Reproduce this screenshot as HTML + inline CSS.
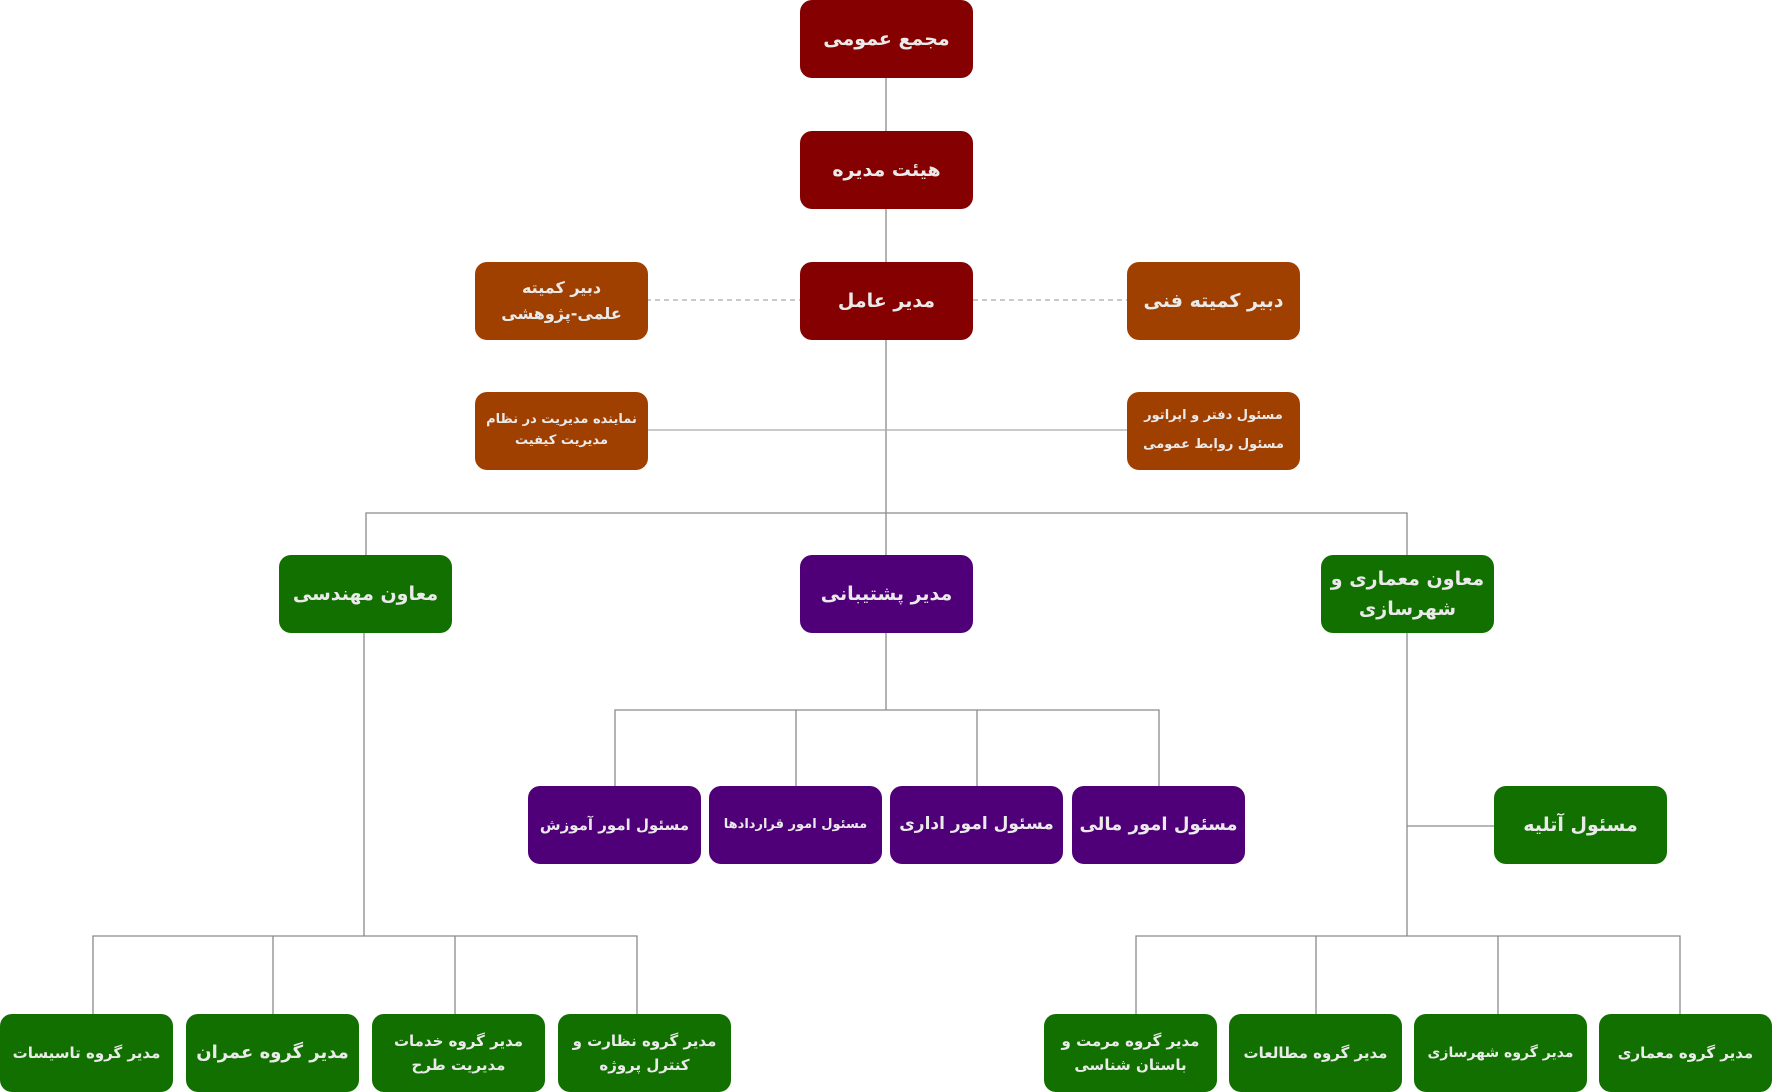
<!DOCTYPE html>
<html><head><meta charset="utf-8"><style>
body{margin:0;width:1772px;height:1092px;background:#fff;position:relative;overflow:hidden;font-family:"DejaVu Sans",sans-serif;}
.b{position:absolute;width:173px;height:78px;border-radius:12px;color:#eaeaea;font-weight:bold;display:flex;align-items:center;justify-content:center;text-align:center;direction:rtl;font-size:19px;line-height:1.6;box-sizing:border-box;padding:0 2px;white-space:nowrap;}
.r{background:#850000}.o{background:#a04000}.p{background:#4f0078}.g{background:#117000}
.s{font-size:15px}
svg{position:absolute;left:0;top:0}
</style></head><body>
<svg width="1772" height="1092" stroke="#8a8a8a" stroke-width="1.3" fill="none">
<line x1="886" y1="78" x2="886" y2="555"/>
<line x1="646" y1="300" x2="800" y2="300" stroke="#aaa" stroke-dasharray="5,4"/>
<line x1="973" y1="300" x2="1127" y2="300" stroke="#aaa" stroke-dasharray="5,4"/>
<line x1="646" y1="430" x2="1127" y2="430" stroke="#aaa"/>
<polyline points="366,555 366,513 1407,513 1407,555"/>
<line x1="886" y1="633" x2="886" y2="710"/>
<polyline points="615,786 615,710 1159,710 1159,786"/>
<line x1="796" y1="710" x2="796" y2="786"/><line x1="977" y1="710" x2="977" y2="786"/>
<line x1="364" y1="633" x2="364" y2="936"/>
<polyline points="93,1014 93,936 637,936 637,1014"/>
<line x1="273" y1="936" x2="273" y2="1014"/><line x1="455" y1="936" x2="455" y2="1014"/>
<line x1="1407" y1="633" x2="1407" y2="936"/>
<polyline points="1136,1014 1136,936 1680,936 1680,1014"/>
<line x1="1316" y1="936" x2="1316" y2="1014"/><line x1="1498" y1="936" x2="1498" y2="1014"/>
<line x1="1407" y1="826" x2="1494" y2="826"/>
</svg>
<div class="b r" style="left:800px;top:0">مجمع عمومی</div>
<div class="b r" style="left:800px;top:131px">هیئت مدیره</div>
<div class="b r" style="left:800px;top:262px">مدیر عامل</div>
<div class="b o s" style="left:475px;top:262px;font-size:16px">دبیر کمیته<br>علمی-پژوهشی</div>
<div class="b o" style="left:1127px;top:262px">دبیر کمیته فنی</div>
<div class="b o" style="left:475px;top:392px;font-size:13px">نماینده مدیریت در نظام<br>مدیریت کیفیت</div>
<div class="b o" style="left:1127px;top:392px;font-size:13px;line-height:2.2">مسئول دفتر و اپراتور<br>مسئول روابط عمومی</div>
<div class="b g" style="left:279px;top:555px">معاون مهندسی</div>
<div class="b p" style="left:800px;top:555px">مدیر پشتیبانی</div>
<div class="b g" style="left:1321px;top:555px">معاون معماری و<br>شهرسازی</div>
<div class="b p" style="left:528px;top:786px;font-size:15px">مسئول امور آموزش</div>
<div class="b p" style="left:709px;top:786px;font-size:13px">مسئول امور قراردادها</div>
<div class="b p" style="left:890px;top:786px;font-size:17px">مسئول امور اداری</div>
<div class="b p" style="left:1072px;top:786px;font-size:18px">مسئول امور مالی</div>
<div class="b g" style="left:1494px;top:786px">مسئول آتلیه</div>
<div class="b g" style="left:0;top:1014px;font-size:15px">مدیر گروه تاسیسات</div>
<div class="b g" style="left:186px;top:1014px;font-size:18px">مدیر گروه عمران</div>
<div class="b g s" style="left:372px;top:1014px">مدیر گروه خدمات<br>مدیریت طرح</div>
<div class="b g s" style="left:558px;top:1014px">مدیر گروه نظارت و<br>کنترل پروژه</div>
<div class="b g s" style="left:1044px;top:1014px">مدیر گروه مرمت و<br>باستان شناسی</div>
<div class="b g" style="left:1229px;top:1014px;font-size:15px">مدیر گروه مطالعات</div>
<div class="b g" style="left:1414px;top:1014px;font-size:14px">مدیر گروه شهرسازی</div>
<div class="b g" style="left:1599px;top:1014px;font-size:15px">مدیر گروه معماری</div>
</body></html>
